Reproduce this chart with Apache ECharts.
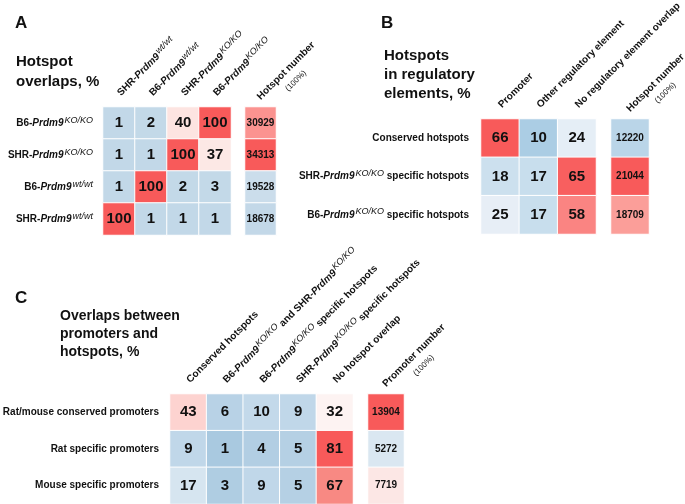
<!DOCTYPE html>
<html><head><meta charset="utf-8">
<script src="https://cdn.jsdelivr.net/npm/echarts@6/dist/echarts.min.js"></script>
<style>html,body{margin:0;padding:0;background:#fff}#c{width:685px;height:504px}</style>
</head><body><div id="c"></div>
<script>
// ---------- Data ----------
// Panel A
const aCols = ['SHR-_Prdm9_^wt/wt^', 'B6-_Prdm9_^wt/wt^', 'SHR-_Prdm9_^KO/KO^', 'B6-_Prdm9_^KO/KO^'];
const aRows = ['B6-_Prdm9_^KO/KO^', 'SHR-_Prdm9_^KO/KO^', 'B6-_Prdm9_^wt/wt^', 'SHR-_Prdm9_^wt/wt^'];
const aValues = [
  [1, 2, 40, 100],
  [1, 1, 100, 37],
  [1, 100, 2, 3],
  [100, 1, 1, 1]
];
const aNumHeader = ['Hotspot number'];
const aNumbers = [30929, 34313, 19528, 18678];

// Panel B
const bCols = ['Promoter', 'Other regulatory element', 'No regulatory element overlap'];
const bRows = ['Conserved hotspots', 'SHR-_Prdm9_^KO/KO^ specific hotspots', 'B6-_Prdm9_^KO/KO^ specific hotspots'];
const bValues = [
  [66, 10, 24],
  [18, 17, 65],
  [25, 17, 58]
];
const bNumHeader = ['Hotspot number'];
const bNumbers = [12220, 21044, 18709];

// Panel C
const cCols = ['Conserved hotspots', 'B6-_Prdm9_^KO/KO^ and SHR-_Prdm9_^KO/KO^', 'B6-_Prdm9_^KO/KO^ specific hotspots', 'SHR-_Prdm9_^KO/KO^ specific hotspots', 'No hotspot overlap'];
const cRows = ['Rat/mouse conserved promoters', 'Rat specific promoters', 'Mouse specific promoters'];
const cValues = [
  [43, 6, 10, 9, 32],
  [9, 1, 4, 5, 81],
  [17, 3, 9, 5, 67]
];
const cNumHeader = ['Promoter number'];
const cNumbers = [13904, 5272, 7719];

// ---------- Helpers ----------
const FONT = '"Liberation Sans", Arial, Helvetica, sans-serif';
const INK = '#111';
function rt(str) {
  return str.replace(/_([^_]+)_/g, '{i|$1}').replace(/\^([^\^]+)\^/g, '{s|$1}');
}
const rich = {
  i: { fontStyle: 'italic', fontWeight: 'bold', fontSize: 10, fontFamily: FONT, color: INK, lineHeight: 20 },
  s: { fontStyle: 'italic', fontWeight: 'normal', fontSize: 9, fontFamily: FONT, color: INK, lineHeight: 14, padding: [0, 0, 6, 1] },
  h: { fontWeight: 'bold', fontSize: 10, fontFamily: FONT, color: INK, lineHeight: 13 },
  p: { fontWeight: 'normal', fontSize: 8, fontFamily: FONT, color: INK, lineHeight: 15, align: 'center' }
};
function toCells(mat) {
  const out = [];
  mat.forEach((row, r) => row.forEach((v, c) => out.push([c, r, v])));
  return out;
}
function toCol(arr) { return arr.map((v, r) => [0, r, v]); }

const gridBase = { containLabel: false, outerBoundsMode: 'none' };
const grids = [
  { left: 103, top: 107, width: 128, height: 128 },
  { left: 245, top: 107, width: 31, height: 128 },
  { left: 481, top: 119, width: 115, height: 115 },
  { left: 611, top: 119, width: 38, height: 115 },
  { left: 170, top: 394, width: 183, height: 110 },
  { left: 368, top: 394, width: 36, height: 110 }
].map(g => Object.assign({}, gridBase, g));

function xAx(gi, cats, isNum) {
  return {
    type: 'category', gridIndex: gi, position: 'top', data: cats,
    axisLine: { show: false }, axisTick: { show: false }, splitLine: { show: false },
    axisLabel: isNum ? {
      interval: 0, rotate: -45, margin: 7, hideOverlap: false,
      align: 'left', verticalAlign: 'middle', padding: [10, 0, 0, 0],
      fontFamily: FONT, fontWeight: 'bold', fontSize: 10, color: INK, rich: rich,
      formatter: v => '{h|' + v + '}\n{p|(100%)}'
    } : {
      interval: 0, rotate: -45, margin: 7, hideOverlap: false,
      align: 'left', verticalAlign: 'middle', padding: [0, 0, 8, 4], lineHeight: 20,
      fontFamily: FONT, fontWeight: 'bold', fontSize: 10, color: INK, rich: rich,
      formatter: rt
    }
  };
}
function yAx(gi, cats, show, margin) {
  return {
    type: 'category', gridIndex: gi, data: cats, inverse: true,
    axisLine: { show: false }, axisTick: { show: false }, splitLine: { show: false },
    axisLabel: {
      show: show, interval: 0, margin: margin || 10,
      fontFamily: FONT, fontWeight: 'bold', fontSize: 10, color: INK, rich: rich,
      formatter: rt
    }
  };
}
function hm(idx, data, fs) {
  return {
    type: 'heatmap', xAxisIndex: idx, yAxisIndex: idx, data: data,
    itemStyle: { borderColor: '#fff', borderWidth: 1 },
    label: { show: true, formatter: p => p.value[2], fontFamily: FONT, fontWeight: 'bold', fontSize: fs, color: INK },
    emphasis: { disabled: true }
  };
}
function vm(idx, min, max, colors) {
  return { type: 'continuous', show: false, seriesIndex: idx, dimension: 2, min: min, max: max, inRange: { color: colors } };
}

const titleStyle = { fontFamily: FONT, fontWeight: 'bold', color: INK };

const option = {
  animation: false,
  backgroundColor: '#fff',
  title: [
    { text: 'A', left: 10, top: 10, textStyle: Object.assign({ fontSize: 17 }, titleStyle) },
    { text: 'Hotspot\noverlaps, %', left: 11, top: 47, textStyle: Object.assign({ fontSize: 15, lineHeight: 20 }, titleStyle) },
    { text: 'B', left: 376, top: 10, textStyle: Object.assign({ fontSize: 17 }, titleStyle) },
    { text: 'Hotspots\nin regulatory\nelements, %', left: 379, top: 41, textStyle: Object.assign({ fontSize: 15, lineHeight: 19 }, titleStyle) },
    { text: 'C', left: 10, top: 285, textStyle: Object.assign({ fontSize: 17 }, titleStyle) },
    { text: 'Overlaps between\npromoters and\nhotspots, %', left: 55, top: 302, textStyle: Object.assign({ fontSize: 14, lineHeight: 18 }, titleStyle) }
  ],
  grid: grids,
  xAxis: [
    xAx(0, aCols, false), xAx(1, aNumHeader, true),
    xAx(2, bCols, false), xAx(3, bNumHeader, true),
    xAx(4, cCols, false), xAx(5, cNumHeader, true)
  ],
  yAxis: [
    yAx(0, aRows, true, 10), yAx(1, aRows, false),
    yAx(2, bRows, true, 12), yAx(3, bRows, false),
    yAx(4, cRows, true, 11), yAx(5, cRows, false)
  ],
  visualMap: [
    vm(0, 0, 100, ['#c2d8e8', '#c6dbe9', '#dfe9f2', '#fbf0ef', '#fde4e1', '#fcc9c5', '#fbaeaa', '#fa9490', '#fa7c78', '#f96a66', '#f85a5a']),
    vm(1, 18678, 34313, ['#c3d8e8', '#e8eff5', '#fdf0ee', '#fb9c98', '#f85a5a']),
    vm(2, 10, 66, ['#abcde4', '#e5eef6', '#fdf2f1', '#fba3a0', '#f85a5a']),
    vm(3, 12220, 21044, ['#bad5e8', '#e3edf5', '#fdeeec', '#fb9994', '#f85a5a']),
    vm(4, 1, 81, ['#a9c9e0', '#c6dbeb', '#e0ebf4', '#fdf6f5', '#fdd9d6', '#fbbab6', '#f99d97', '#f87c76', '#f85a5a']),
    vm(5, 5272, 13904, ['#dae7f1', '#fcedeb', '#fbc2be', '#f98e89', '#f85a5a'])
  ],
  series: [
    hm(0, toCells(aValues), 15), hm(1, toCol(aNumbers), 10),
    hm(2, toCells(bValues), 15), hm(3, toCol(bNumbers), 10),
    hm(4, toCells(cValues), 15), hm(5, toCol(cNumbers), 10)
  ]
};
const chart = echarts.init(document.getElementById('c'), null, { renderer: 'canvas' });
chart.setOption(option);
</script>
</body></html>
